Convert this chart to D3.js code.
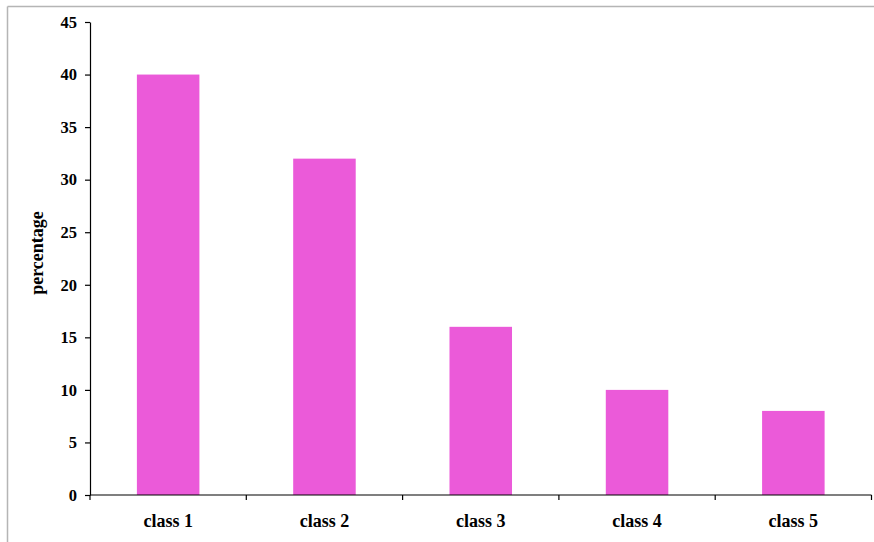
<!DOCTYPE html>
<html>
<head>
<meta charset="utf-8">
<script src="https://cdn.jsdelivr.net/npm/d3@7"></script>
<style>
  html, body { margin: 0; padding: 0; background: #fff; }
  svg { display: block; }
  text { font-family: "Liberation Serif", "Times New Roman", serif; font-weight: bold; fill: #000; }
</style>
</head>
<body>
<script>
const categories = ["class 1", "class 2", "class 3", "class 4", "class 5"];
const values = [40, 32, 16, 10, 8];
const yTicks = [0, 5, 10, 15, 20, 25, 30, 35, 40, 45];
const yLabel = "percentage";

const W = 874, H = 542;
const plotLeft = 90, plotRight = 871.5, plotTop = 22, plotBottom = 495;

const svg = d3.select("body").append("svg").attr("width", W).attr("height", H);

// frame around the chart area (top and left edges)
svg.append("line").attr("x1", 7.5).attr("x2", W).attr("y1", 6.5).attr("y2", 6.5)
  .attr("stroke", "#b5b5b5").attr("stroke-width", 1.5);
svg.append("line").attr("x1", 7.5).attr("x2", 7.5).attr("y1", 6.5).attr("y2", H)
  .attr("stroke", "#b5b5b5").attr("stroke-width", 1.5);

const x = d3.scaleBand().domain(categories).range([plotLeft, plotRight]).paddingInner(0).paddingOuter(0);
const y = d3.scaleLinear().domain([0, 45]).range([plotBottom, plotTop]);

// bars
const barW = x.bandwidth() * 0.4;
svg.append("g").selectAll("rect").data(categories).join("rect")
  .attr("x", (d) => x(d) + (x.bandwidth() - barW) / 2)
  .attr("width", barW)
  .attr("y", (d, i) => y(values[i]))
  .attr("height", (d, i) => y(0) - y(values[i]))
  .attr("fill", "#eb5ad9");

// y axis
const yAxis = svg.append("g").attr("transform", `translate(${plotLeft},0)`)
  .call(d3.axisLeft(y).tickValues(yTicks).tickSize(5).tickSizeOuter(0).tickPadding(8));
yAxis.selectAll("text").style("font-size", "16.5px");
yAxis.select(".domain").attr("stroke", "#000").attr("stroke-width", 1.2);
yAxis.selectAll(".tick line").attr("stroke", "#000").attr("stroke-width", 1.2);

// x axis with ticks at category boundaries
const xAxis = svg.append("g").attr("transform", `translate(0,${plotBottom})`);
xAxis.append("line").attr("x1", plotLeft).attr("x2", plotRight).attr("y1", 0).attr("y2", 0)
  .attr("stroke", "#000").attr("stroke-width", 1.2);
const bounds = categories.map((d) => x(d)).concat([plotRight]);
xAxis.selectAll("line.tk").data(bounds).join("line").attr("class", "tk")
  .attr("x1", (d) => d).attr("x2", (d) => d).attr("y1", 0).attr("y2", 5)
  .attr("stroke", "#000").attr("stroke-width", 1.2);
xAxis.selectAll("text").data(categories).join("text")
  .attr("x", (d) => x(d) + x.bandwidth() / 2)
  .attr("y", 32)
  .attr("text-anchor", "middle")
  .style("font-size", "18px")
  .text((d) => d);

// y axis title
svg.append("text")
  .attr("transform", "translate(43,253) rotate(-90)")
  .attr("text-anchor", "middle")
  .style("font-size", "18px")
  .text(yLabel);
</script>
</body>
</html>
